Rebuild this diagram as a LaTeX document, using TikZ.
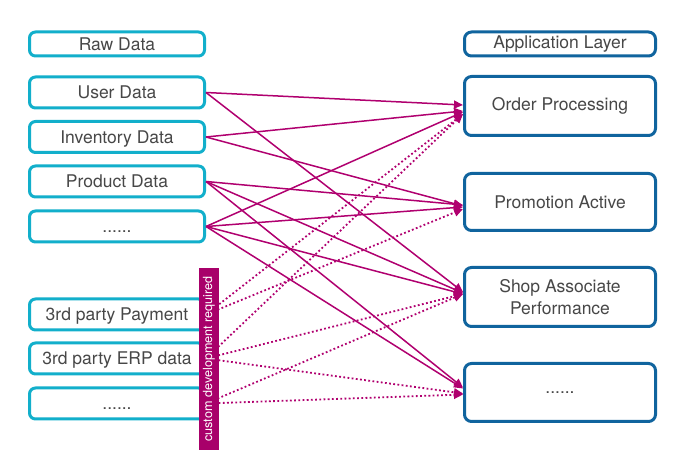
\documentclass[tikz,border=0pt]{standalone}
\usepackage{fontspec}
\setmainfont{TeX Gyre Heros}
\usetikzlibrary{arrows.meta,calc}
\definecolor{cyanb}{HTML}{12AFCB}
\definecolor{blueb}{HTML}{10649E}
\definecolor{mag}{HTML}{B0006F}
\definecolor{barc}{HTML}{A8006A}
\definecolor{txt}{HTML}{474747}
\begin{document}
\begin{tikzpicture}[x=1pt,y=-1pt,
  lbl/.style={text=txt, font=\fontsize{17.5}{21.5}\selectfont},
  src/.style={lbl, draw=cyanb, fill=white, line width=3pt, rounded corners=6pt, minimum width=175pt, minimum height=31pt, inner sep=0pt, text depth=0pt, text height=12.5pt},
  dst/.style={lbl, draw=blueb, fill=white, line width=3pt, rounded corners=7pt, minimum width=191pt, inner sep=0pt, align=center},
  link/.style={draw=mag, line width=1.5pt, -{Triangle[length=9pt,width=8pt]}},
  dlink/.style={link, line width=1.8pt, dash pattern=on 1.8pt off 2.4pt}]
\useasboundingbox (0,0) rectangle (689,465);
% left column
\node[src, minimum height=24pt] (raw) at (117,44) {Raw Data};
\node[src] (user) at (117,92.5) {User Data};
\node[src] (inv) at (117,137) {Inventory Data};
\node[src] (prod) at (117,181.5) {Product Data};
\node[src] (d1) at (117,226.5) {......};
\node[src] (pay) at (117,314.5) {3rd party Payment};
\node[src] (erp) at (117,358.5) {3rd party ERP data};
\node[src] (d3) at (117,403.5) {......};
% right column
\node[dst, minimum height=24pt] (app) at (560,44) {Application Layer};
\node[dst, minimum height=59pt] (op) at (560,106) {Order Processing};
\node[dst, minimum height=57pt] (pa) at (560,202) {Promotion Active};
\node[dst, minimum height=59pt] (shop) at (560,297) {Shop Associate\\Performance};
\node[dst, minimum height=58pt] (dd) at (560,392.5) {......};
% solid links
\draw[link] (user.east) -- ($(op.west)+(0,-1)$);
\draw[link] (user.east) -- ($(shop.west)+(0,-5)$);
\draw[link] (inv.east) -- ($(op.west)+(0,5)$);
\draw[link] (inv.east) -- ($(pa.west)+(0,4)$);
\draw[link] (prod.east) -- ($(pa.west)+(0,3)$);
\draw[link] (prod.east) -- ($(shop.west)+(0,-4)$);
\draw[link] (prod.east) -- ($(dd.west)+(0,-5)$);
\draw[link] (d1.east) -- ($(op.west)+(0,6)$);
\draw[link] (d1.east) -- ($(pa.west)+(0,5)$);
\draw[link] (d1.east) -- ($(shop.west)+(0,-3)$);
\draw[link] (d1.east) -- ($(dd.west)+(0,-4)$);
% dotted links
\draw[dlink] (pay.east) -- ($(op.west)+(0,8)$);
\draw[dlink] (pay.east) -- ($(pa.west)+(0,7)$);
\draw[dlink] (erp.east) -- ($(op.west)+(0,8)$);
\draw[dlink] (erp.east) -- ($(shop.west)+(0,-3)$);
\draw[dlink] (erp.east) -- ($(dd.west)+(0,1)$);
\draw[dlink] (d3.east) -- ($(shop.west)+(0,-3)$);
\draw[dlink] (d3.east) -- ($(dd.west)+(0,2)$);
% bar
\node[fill=barc, minimum width=182pt, minimum height=20pt, inner sep=0pt, rotate=90, text=white, font=\fontsize{12.6}{14}\selectfont] (bar) at (209,359) {custom development required};
\end{tikzpicture}
\end{document}
